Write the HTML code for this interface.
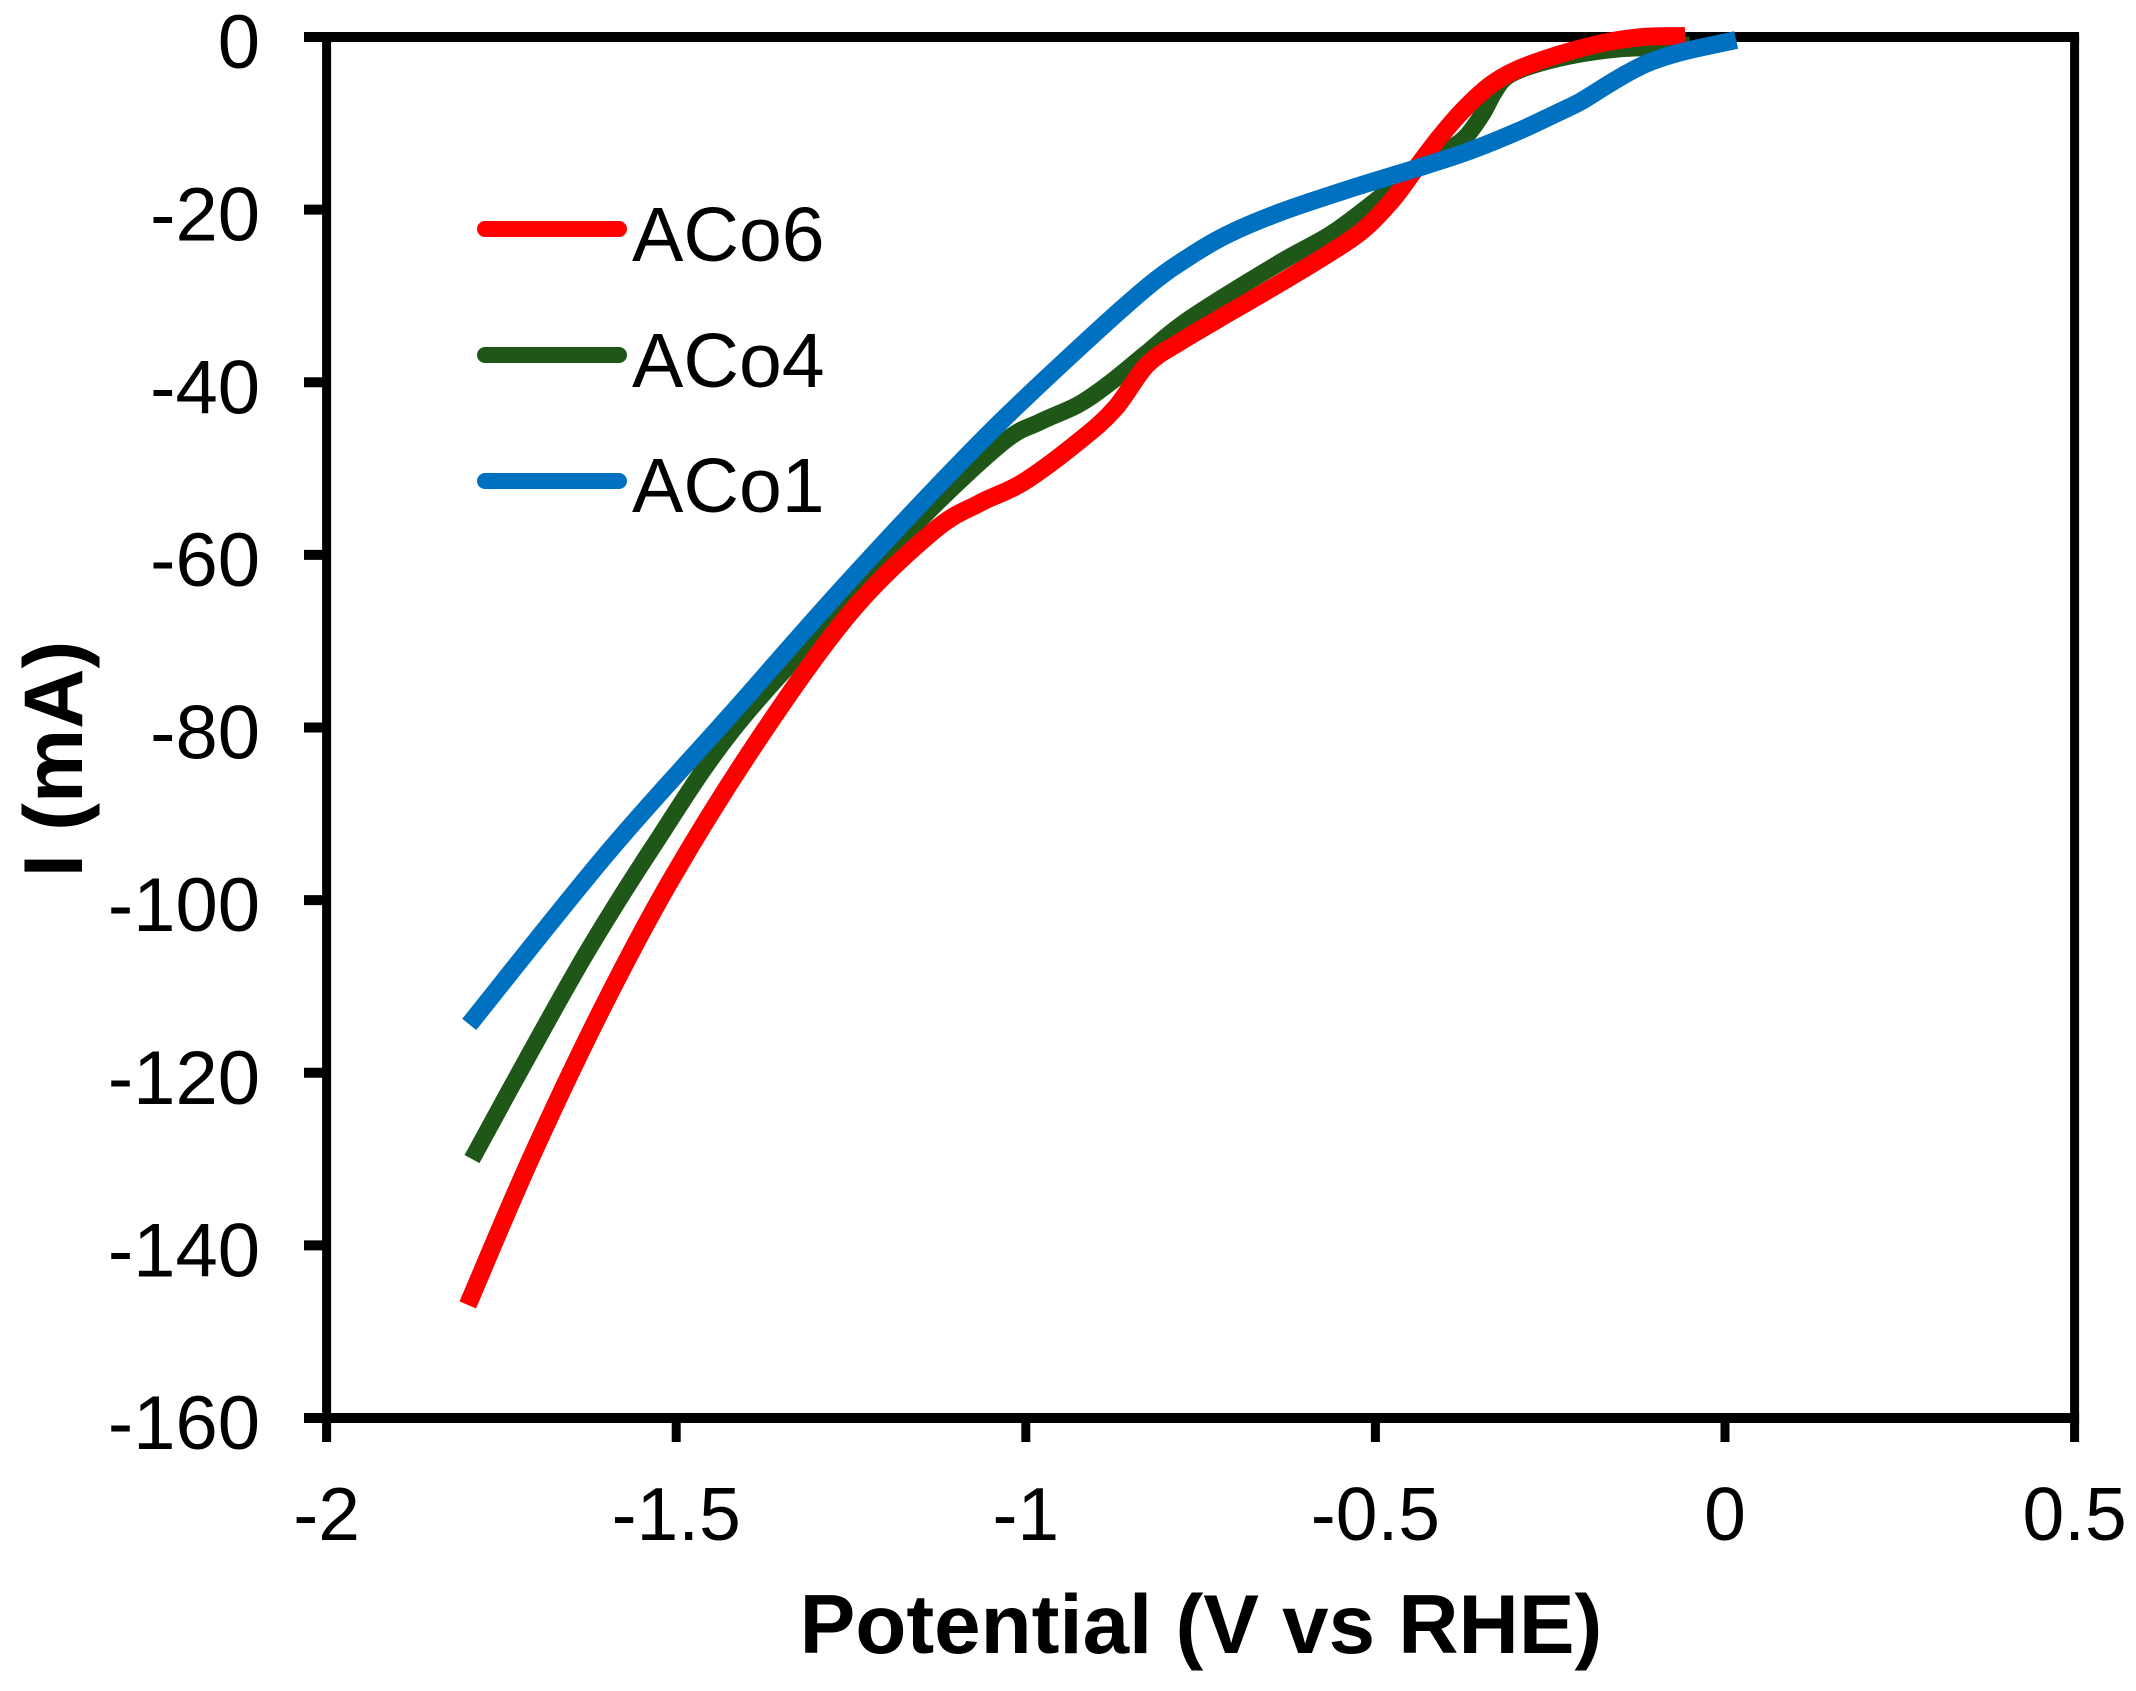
<!DOCTYPE html>
<html lang="en">
<head>
<meta charset="utf-8">
<title>Current vs potential</title>
<style>
html,body{margin:0;padding:0;background:#fff;}
svg{display:block;}
text{font-family:"Liberation Sans",Arial,sans-serif;fill:#000;}
</style>
</head>
<body>
<svg id="chart" xmlns="http://www.w3.org/2000/svg" width="2136" height="1691" viewBox="0 0 2136 1691"></svg>
<script>
const xTicks = [-2, -1.5, -1, -0.5, 0, 0.5];
const xTickLabels = ['-2', '-1.5', '-1', '-0.5', '0', '0.5'];
const yTicks = [0, -20, -40, -60, -80, -100, -120, -140, -160];
const yTickLabels = ['0', '-20', '-40', '-60', '-80', '-100', '-120', '-140', '-160'];

const potentialACo4 = [-1.792,-1.709,-1.626,-1.533,-1.419,-1.251,-1.147,-1.033,-0.980,-0.925,-0.880,-0.827,-0.765,-0.636,-0.561,-0.486,-0.436,-0.393,-0.369,-0.346,-0.330,-0.312,-0.279,-0.222,-0.154,-0.107,-0.050];
const currentACo4 = [-130.0,-117.7,-105.8,-93.8,-80.3,-65.0,-55.6,-47.0,-44.6,-42.6,-40.1,-36.6,-32.6,-26.1,-22.7,-18.1,-14.8,-12.9,-11.4,-8.8,-6.4,-4.6,-3.4,-2.2,-1.4,-1.2,-0.9];

const potentialACo6 = [-1.798,-1.709,-1.605,-1.505,-1.380,-1.251,-1.133,-1.066,-1.004,-0.922,-0.872,-0.827,-0.779,-0.708,-0.636,-0.565,-0.518,-0.476,-0.441,-0.408,-0.375,-0.336,-0.298,-0.240,-0.175,-0.117,-0.057];
const currentACo6 = [-146.9,-130.1,-112.4,-97.3,-81.1,-66.7,-57.3,-54.0,-51.6,-46.7,-43.0,-38.0,-35.3,-31.9,-28.5,-25.0,-22.4,-18.9,-15.1,-11.6,-8.5,-5.6,-3.8,-2.1,-0.7,0,0.1];

const potentialACo1 = [-1.796,-1.598,-1.423,-1.256,-1.066,-0.925,-0.827,-0.769,-0.712,-0.636,-0.541,-0.441,-0.369,-0.298,-0.240,-0.207,-0.175,-0.140,-0.107,-0.060,0.016];
const currentACo1 = [-114.4,-94.5,-78.6,-63.3,-47.0,-36.1,-29.0,-25.6,-22.9,-20.3,-17.7,-15.2,-13.3,-11.0,-8.8,-7.5,-5.9,-4.2,-2.9,-1.7,-0.35];

const legendLabels = ['ACo6', 'ACo4', 'ACo1'];
const colorRed = '#ff0000';
const colorGreen = '#1f5719';
const colorBlue = '#0070c0';

const NS = 'http://www.w3.org/2000/svg';
const svg = document.getElementById('chart');
const plotLeft = 326.6, plotRight = 2074.6, plotTop = 37, plotBottom = 1418;

function xScale(v) { return plotLeft + (v - (-2)) / 2.5 * (plotRight - plotLeft); }
function yScale(v) { return plotTop + (0 - v) / 160 * (plotBottom - plotTop); }

function make(tag, attrs) {
  const el = document.createElementNS(NS, tag);
  for (const k in attrs) el.setAttribute(k, attrs[k]);
  svg.appendChild(el);
  return el;
}

function smoothPath(xs, ys) {
  const p = xs.map((x, i) => [xScale(x), yScale(ys[i])]);
  let d = 'M' + p[0][0].toFixed(1) + ' ' + p[0][1].toFixed(1);
  for (let i = 0; i < p.length - 1; i++) {
    const a = p[Math.max(i - 1, 0)], b = p[i], c = p[i + 1], e = p[Math.min(i + 2, p.length - 1)];
    const c1x = b[0] + (c[0] - a[0]) / 6, c1y = b[1] + (c[1] - a[1]) / 6;
    const c2x = c[0] - (e[0] - b[0]) / 6, c2y = c[1] - (e[1] - b[1]) / 6;
    d += 'C' + c1x.toFixed(1) + ' ' + c1y.toFixed(1) + ' ' + c2x.toFixed(1) + ' ' + c2y.toFixed(1) + ' ' + c[0].toFixed(1) + ' ' + c[1].toFixed(1);
  }
  return d;
}

// Plot frame
const frameTop = make('line', {x1: plotLeft - 4.5, x2: plotRight + 4.5, y1: plotTop, y2: plotTop, stroke: '#000', 'stroke-width': 10});


const frameBottom = make('line', {x1: plotLeft - 4.5, x2: plotRight + 4.5, y1: plotBottom, y2: plotBottom, stroke: '#000', 'stroke-width': 10});


const frameLeft = make('line', {x1: plotLeft, x2: plotLeft, y1: plotTop, y2: plotBottom, stroke: '#000', 'stroke-width': 9});


const frameRight = make('line', {x1: plotRight, x2: plotRight, y1: plotTop, y2: plotBottom, stroke: '#000', 'stroke-width': 9});



// Y ticks and labels
yTicks.forEach((v, i) => {
  const t = make('line', {x1: 304, x2: plotLeft, y1: yScale(v), y2: yScale(v), stroke: '#000', 'stroke-width': 10});
  
  
  const l = make('text', {x: 260, y: yScale(v) + 31, 'text-anchor': 'end', 'font-size': 76});
  
  
  l.textContent = yTickLabels[i];
});

// X ticks and labels
xTicks.forEach((v, i) => {
  const t = make('line', {x1: xScale(v), x2: xScale(v), y1: plotBottom, y2: 1442, stroke: '#000', 'stroke-width': 9});
  
  
  const l = make('text', {x: xScale(v), y: 1540, 'text-anchor': 'middle', 'font-size': 75});
  
  
  l.textContent = xTickLabels[i];
});

// Axis titles
const xTitle = make('text', {x: 1201, y: 1653, 'text-anchor': 'middle', 'font-size': 83.5, 'font-weight': 'bold'});


xTitle.textContent = 'Potential (V vs RHE)';
const yTitle = make('text', {x: 0, y: 0, 'text-anchor': 'middle', 'font-size': 83.5, 'font-weight': 'bold', transform: 'translate(82 759) rotate(-90)'});


yTitle.textContent = 'I (mA)';

// Series
const lineGreen = make('path', {d: smoothPath(potentialACo4, currentACo4), fill: 'none', stroke: colorGreen, 'stroke-width': 17});


const lineRed = make('path', {d: smoothPath(potentialACo6, currentACo6), fill: 'none', stroke: colorRed, 'stroke-width': 18});


const lineBlue = make('path', {d: smoothPath(potentialACo1, currentACo1), fill: 'none', stroke: colorBlue, 'stroke-width': 18});



// Legend
const swatch6 = make('line', {x1: 485, x2: 619, y1: 229, y2: 229, stroke: colorRed, 'stroke-width': 16, 'stroke-linecap': 'round'});


const label6 = make('text', {x: 632, y: 261, 'font-size': 77});


label6.textContent = legendLabels[0];
const swatch4 = make('line', {x1: 485, x2: 619, y1: 355, y2: 355, stroke: colorGreen, 'stroke-width': 16, 'stroke-linecap': 'round'});


const label4 = make('text', {x: 632, y: 387, 'font-size': 77});


label4.textContent = legendLabels[1];
const swatch1 = make('line', {x1: 485, x2: 619, y1: 481, y2: 481, stroke: colorBlue, 'stroke-width': 16, 'stroke-linecap': 'round'});


const label1 = make('text', {x: 632, y: 512, 'font-size': 77});


label1.textContent = legendLabels[2];
</script>
</body>
</html>
